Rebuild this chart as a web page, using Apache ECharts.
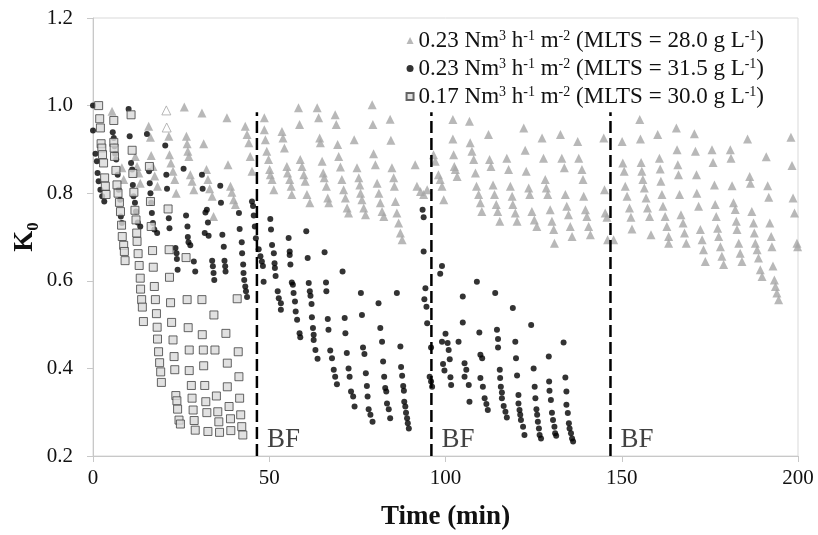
<!DOCTYPE html>
<html>
<head>
<meta charset="utf-8">
<script src="https://cdn.jsdelivr.net/npm/echarts@6/dist/echarts.min.js"></script>
<style>
  html, body { margin: 0; padding: 0; background: #fff; }
  #chart { width: 818px; height: 535px; }
</style>
</head>
<body>
<div id="chart"></div>
<script>
// gray triangles, 0.23 Nm3/h/m2, MLTS 28.0
const triangles = [
  [5.4,0.987],[8.2,0.858],[8.7,0.831],[12.0,0.884],[12.5,0.861],[13.0,0.846],[13.4,0.823],
  [15.8,0.953],[16.3,0.928],[16.5,0.886],[17.0,0.861],[17.5,0.839],[18.3,0.816],
  [21.5,0.930],[21.7,0.888],[22.1,0.869],[22.7,0.850],[23.2,0.831],[23.6,0.800],
  [25.9,0.997],[26.5,0.930],[26.7,0.913],[26.9,0.896],[27.2,0.884],[27.6,0.842],[28.1,0.827],[28.6,0.808],
  [30.9,0.983],[31.4,0.913],[32.2,0.854],[32.6,0.831],[33.1,0.810],[33.8,0.793],[34.2,0.747],
  [38.0,0.972],[38.3,0.865],[39.0,0.816],[39.4,0.802],[39.9,0.785],[40.4,0.774],
  [43.2,0.953],[43.7,0.934],[44.2,0.915],[44.6,0.884],[45.1,0.850],
  [48.6,0.972],[48.6,0.945],[48.9,0.922],[49.3,0.896],[49.8,0.877],[50.1,0.854],[50.3,0.842],[50.8,0.831],[51.3,0.808],
  [53.6,0.941],[53.9,0.926],[54.3,0.903],[55.0,0.861],[55.2,0.846],[55.8,0.831],[56.2,0.816],[56.4,0.797],
  [58.3,0.995],[58.6,0.957],[58.8,0.877],[59.3,0.861],[59.8,0.842],[60.2,0.827],[60.7,0.797],[61.5,0.778],
  [63.6,0.995],[64.0,0.972],[64.3,0.926],[64.5,0.915],[65.0,0.873],[65.3,0.846],[65.6,0.835],[66.2,0.816],[66.6,0.789],[66.9,0.778],
  [68.7,0.979],[69.0,0.957],[69.4,0.911],[69.7,0.884],[70.2,0.860],[70.6,0.831],[71.1,0.808],[71.6,0.789],[72.1,0.766],[72.5,0.755],
  [74.1,0.922],[74.9,0.858],[75.4,0.835],[75.7,0.819],[75.9,0.800],[76.3,0.785],[76.8,0.766],[77.3,0.751],
  [79.2,1.002],[79.4,0.957],[79.6,0.890],[80.1,0.865],[80.6,0.823],[81.1,0.800],[81.5,0.778],[82.0,0.758],[82.5,0.747],
  [84.3,0.969],[84.5,0.921],[84.8,0.858],[85.3,0.835],[85.5,0.816],[85.8,0.781],[86.2,0.755],[86.7,0.732],[87.2,0.709],[87.7,0.694],
  [91.4,0.865],[91.9,0.816],[92.9,0.804],[93.8,0.797],[94.8,0.808],
  [96.6,0.888],[97.1,0.873],[98.0,0.842],[98.5,0.831],[99.0,0.816],[99.5,0.785],
  [102.1,0.968],[102.1,0.924],[102.3,0.888],[102.5,0.861],[102.8,0.854],[103.3,0.838],
  [106.8,0.964],[107.0,0.915],[107.5,0.896],[108.0,0.877],[108.5,0.846],[108.8,0.816],[109.4,0.797],[109.9,0.778],[110.3,0.758],
  [112.2,0.934],[112.5,0.877],[112.9,0.861],[113.5,0.819],[113.9,0.797],[114.4,0.774],[114.8,0.758],[115.4,0.736],
  [117.4,0.880],[117.9,0.854],[118.4,0.816],[118.9,0.793],[119.1,0.774],[119.8,0.755],[120.3,0.736],
  [122.2,0.949],[122.6,0.898],[122.9,0.850],[123.6,0.812],[123.9,0.797],[124.5,0.758],[125.2,0.739],[125.9,0.724],
  [127.4,0.926],[127.8,0.880],[128.3,0.831],[128.6,0.812],[129.0,0.797],[129.7,0.762],[130.2,0.736],[130.7,0.717],[130.9,0.686],
  [132.6,0.934],[133.0,0.880],[133.7,0.858],[134.0,0.797],[134.4,0.770],[134.9,0.751],[135.4,0.724],[135.9,0.701],
  [137.5,0.918],[137.8,0.880],[138.7,0.854],[139.0,0.831],[139.2,0.793],[139.7,0.762],[140.1,0.747],[140.6,0.724],[141.1,0.705],
  [144.9,0.926],[145.1,0.808],[145.3,0.755],[145.8,0.745],[146.0,0.694],[147.7,0.694],
  [150.1,0.918],[150.3,0.869],[150.7,0.850],[151.0,0.816],[151.5,0.793],[152.2,0.766],[152.6,0.745],[152.9,0.718],
  [155.1,0.968],[155.3,0.924],[155.5,0.870],[155.7,0.850],[156.0,0.831],[156.4,0.812],[156.9,0.789],[157.3,0.766],[157.9,0.747],[158.3,0.705],
  [160.2,0.934],[160.7,0.880],[160.9,0.855],[161.1,0.827],[161.4,0.797],[161.7,0.770],[162.3,0.747],[162.8,0.724],[163.3,0.701],[163.3,0.686],
  [165.5,0.949],[165.7,0.899],[165.9,0.865],[166.1,0.842],[166.4,0.797],[166.8,0.751],[167.4,0.732],[167.8,0.709],[168.3,0.686],
  [170.6,0.936],[170.9,0.896],[171.2,0.842],[171.3,0.800],[171.8,0.770],[172.3,0.717],[172.8,0.694],[173.2,0.671],[173.7,0.644],
  [175.6,0.899],[175.9,0.870],[176.3,0.819],[176.5,0.774],[176.8,0.747],[177.2,0.720],[177.5,0.701],[178.0,0.678],[178.4,0.656],[178.9,0.637],
  [180.8,0.899],[181.0,0.880],[181.3,0.817],[181.7,0.778],[182.2,0.763],[182.5,0.736],[182.7,0.717],[183.2,0.686],[183.6,0.663],[184.1,0.644],
  [185.7,0.924],[186.3,0.838],[186.5,0.823],[186.9,0.758],[187.4,0.732],[187.6,0.709],[187.9,0.686],[188.4,0.671],[188.8,0.652],[189.3,0.625],[189.8,0.610],
  [191.0,0.883],[191.4,0.817],[191.7,0.791],[192.0,0.732],[192.4,0.701],[192.6,0.678],[192.9,0.634],[193.3,0.602],[193.6,0.587],[194.0,0.572],[194.5,0.557],
  [198.0,0.928],[198.3,0.863],[198.6,0.789],[199.0,0.755],[199.7,0.686],[199.9,0.678]
];
// the two open triangles near 20 min
const hollowTriangles = [[20.8,0.989],[20.9,0.950]];

// black dots, 0.23 Nm3/h/m2, MLTS 31.5
const dots = [
  [0,1.0],[0,0.943],[0.7,0.890],[1.1,0.873],[1.3,0.846],[1.6,0.827],[2.1,0.808],[2.6,0.793],[3.2,0.781],
  [5.6,0.939],[5.9,0.926],[6.1,0.907],[6.3,0.890],[6.6,0.877],[7.0,0.842],[7.3,0.808],[7.7,0.785],[7.9,0.747],[8.2,0.732],
  [10.1,0.992],[10.4,0.930],[10.8,0.869],[11.1,0.854],[11.3,0.819],[11.5,0.793],[11.9,0.778],[12.2,0.758],[12.7,0.733],[13.4,0.724],
  [15.3,0.935],[15.9,0.850],[16.1,0.823],[16.3,0.800],[16.5,0.778],[16.7,0.755],[17.0,0.732],[17.4,0.717],[18.2,0.709],
  [20.5,0.909],[20.8,0.842],[21.0,0.810],[21.5,0.743],[21.7,0.720],
  [23.4,0.675],[23.7,0.663],[23.8,0.650],[24.0,0.625],
  [25.7,0.856],[26.4,0.749],[26.8,0.724],[26.9,0.700],[27.1,0.688],[27.6,0.681],[28.6,0.644],[29.0,0.621],
  [30.9,0.842],[31.1,0.810],[31.9,0.756],[32.3,0.762],[32.6,0.733],[31.7,0.709],[32.8,0.703],
  [33.8,0.646],[34.0,0.633],[34.2,0.618],[34.4,0.602],
  [36.1,0.817],[36.3,0.778],[36.7,0.705],[37.1,0.678],[37.3,0.646],[37.5,0.633],[37.6,0.621],
  [41.4,0.755],[41.6,0.718],[42.2,0.688],[42.3,0.663],[42.6,0.637],[42.7,0.618],[42.9,0.602],[43.2,0.587],[43.4,0.576],[43.7,0.563],
  [45.1,0.781],[45.4,0.771],[45.6,0.749],[45.9,0.724],[46.2,0.697],[47.0,0.672],[47.5,0.656],[47.9,0.644],[48.2,0.634],[48.4,0.598],
  [50.3,0.741],[50.5,0.717],[50.8,0.682],[51.3,0.663],[51.5,0.640],[51.6,0.629],[51.8,0.611],[52.4,0.576],[52.7,0.560],[53.3,0.549],[53.3,0.534],
  [55.5,0.698],[55.8,0.667],[55.8,0.659],[56.0,0.637],[56.4,0.596],[56.7,0.591],[56.9,0.572],[57.3,0.553],[57.5,0.530],[57.9,0.511],[58.6,0.480],[58.8,0.471],
  [60.5,0.713],[60.9,0.652],[61.2,0.595],[61.5,0.576],[61.7,0.566],[62.0,0.547],[62.1,0.517],[62.4,0.492],[62.6,0.477],[62.6,0.465],[63.1,0.442],[63.7,0.422],
  [65.7,0.665],[66.1,0.596],[66.2,0.576],[66.6,0.513],[66.8,0.488],[67.3,0.441],[67.8,0.423],[68.3,0.397],[68.7,0.381],[69.2,0.364],
  [70.8,0.621],[71.4,0.515],[71.6,0.480],[72.0,0.435],[72.5,0.400],[72.8,0.381],[73.2,0.347],[73.8,0.336],[74.2,0.313],
  [76.0,0.572],[76.3,0.522],[76.6,0.448],[77.0,0.433],[77.4,0.389],[77.7,0.360],[77.9,0.336],[78.2,0.307],[78.7,0.294],[79.3,0.278],
  [81.0,0.549],[81.5,0.492],[82.0,0.461],[82.3,0.416],[82.6,0.381],[82.9,0.355],[83.2,0.347],[83.4,0.320],[83.9,0.307],[84.3,0.286],
  [86.2,0.572],[87.2,0.450],[87.4,0.403],[87.7,0.383],[88.0,0.360],[88.2,0.349],[88.3,0.324],[88.6,0.313],[88.8,0.299],[89.1,0.286],[89.3,0.275],[89.6,0.263],
  [93.5,0.762],[93.8,0.745],[93.8,0.667],[94.3,0.583],[94.0,0.558],[94.6,0.541],[94.8,0.503],[95.9,0.448],[95.5,0.381],[95.9,0.370],[96.2,0.358],
  [99.0,0.634],[98.5,0.616],[100.0,0.479],[99.0,0.461],[100.6,0.458],[100.9,0.442],[103.7,0.461],[99.3,0.410],[99.7,0.395],[101.2,0.421],[101.4,0.380],[101.6,0.362],
  [104.9,0.564],[104.9,0.505],[105.4,0.412],[105.9,0.397],[105.4,0.381],[106.6,0.362],[106.8,0.324],
  [108.9,0.598],[109.6,0.482],[109.9,0.431],[110.4,0.423],[109.9,0.378],[110.6,0.358],[111.1,0.332],[111.6,0.319],[112.0,0.305],
  [114.1,0.572],[114.6,0.488],[114.9,0.467],[114.9,0.448],[115.4,0.397],[115.5,0.378],[115.7,0.358],[116.0,0.345],[116.0,0.332],[116.5,0.314],[117.0,0.301],[117.4,0.288],
  [119.1,0.538],[119.8,0.461],[120.0,0.423],[120.3,0.384],[120.7,0.339],[120.7,0.320],[121.0,0.305],[121.2,0.294],[121.4,0.282],[122.0,0.267],[122.4,0.248],
  [124.3,0.499],[125.0,0.400],[125.3,0.358],[125.5,0.332],[125.8,0.307],[126.0,0.294],[126.2,0.278],[126.5,0.263],[126.7,0.248],[127.1,0.240],
  [129.3,0.427],[129.4,0.370],[129.5,0.349],[129.9,0.328],[130.2,0.299],[130.5,0.282],[130.9,0.267],[131.1,0.252],[131.4,0.246],
  [133.5,0.459],[134.0,0.379],[134.3,0.347],[134.3,0.317],[134.7,0.298],[135.0,0.275],[135.2,0.263],[135.6,0.252],[135.9,0.240],[136.2,0.233]
];

// light gray squares, 0.17 Nm3/h/m2, MLTS 30.0
const squares = [
  [1.6,1.0],[1.9,0.970],[2.1,0.949],[2.3,0.913],[2.5,0.903],[2.7,0.888],[3.0,0.869],[3.3,0.835],[3.5,0.816],[3.7,0.797],
  [5.9,0.966],[5.9,0.916],[6.0,0.903],[6.1,0.884],[6.5,0.852],[6.8,0.819],[7.1,0.800],[7.5,0.779],[7.8,0.758],[8.1,0.727],[8.3,0.701],[8.7,0.681],[8.9,0.667],[9.1,0.646],
  [10.8,0.979],[11.1,0.898],[11.3,0.845],[11.6,0.802],[11.9,0.761],[12.2,0.739],[12.4,0.709],[12.5,0.690],[12.8,0.662],[13.1,0.635],[13.4,0.606],[13.5,0.581],[13.8,0.557],[14.0,0.540],[14.3,0.507],
  [16.0,0.861],[16.3,0.781],[16.5,0.724],[16.9,0.669],[17.1,0.631],[17.4,0.587],[17.7,0.557],[18.0,0.525],[18.2,0.494],[18.3,0.467],[18.6,0.438],[18.9,0.413],[19.2,0.392],[19.4,0.368],
  [21.3,0.764],[21.6,0.671],[21.7,0.608],[22.0,0.550],[22.3,0.505],[22.7,0.465],[23.0,0.427],[23.2,0.397],[23.5,0.338],[23.8,0.326],[24.0,0.307],[24.4,0.282],[24.8,0.273],
  [26.4,0.653],[26.7,0.557],[27.0,0.493],[27.3,0.442],[27.3,0.395],[27.9,0.361],[28.1,0.332],[28.4,0.305],[28.7,0.281],[29.0,0.259],
  [30.9,0.557],[31.0,0.477],[31.3,0.442],[31.4,0.406],[31.7,0.361],[32.0,0.324],[32.3,0.299],[32.6,0.256],
  [34.3,0.522],[34.6,0.442],[35.0,0.337],[35.4,0.301],[35.7,0.278],[35.9,0.254],
  [37.7,0.480],[38.1,0.412],[38.1,0.358],[38.6,0.313],[39.0,0.285],[39.1,0.258],
  [40.9,0.559],[41.2,0.438],[41.4,0.381],[41.6,0.332],[41.9,0.294],[42.2,0.267],[42.5,0.248]
];

// backflush times (min) and the span of the dashed markers
const bfTimes = [46.5, 96.0, 146.8];
const bfRange = [0.2, 0.985];
const bfLabelY = 0.237;

const seriesNames = [
  "0.23 Nm3 h-1 m-2 (MLTS = 28.0 g L-1)",
  "0.23 Nm3 h-1 m-2 (MLTS = 31.5 g L-1)",
  "0.17 Nm3 h-1 m-2 (MLTS = 30.0 g L-1)"
];
const richNames = {};
richNames[seriesNames[0]] = "{n|0.23 Nm}{s|3}{n| h}{s|-1}{n| m}{s|-2}{n| (MLTS = 28.0 g L}{s|-1}{n|)}";
richNames[seriesNames[1]] = "{n|0.23 Nm}{s|3}{n| h}{s|-1}{n| m}{s|-2}{n| (MLTS = 31.5 g L}{s|-1}{n|)}";
richNames[seriesNames[2]] = "{n|0.17 Nm}{s|3}{n| h}{s|-1}{n| m}{s|-2}{n| (MLTS = 30.0 g L}{s|-1}{n|)}";

const SERIF = "'Liberation Serif', 'Times New Roman', serif";
const INK = "#111";

let chart = echarts.init(document.getElementById("chart"));

let triData = triangles.map(p => p).concat(hollowTriangles.map(p => ({
  value: p,
  itemStyle: {color: "#fff", borderColor: "#a6a6a6", borderWidth: 1}
})));

let series = [
  {name: seriesNames[0], type: "scatter", symbol: "triangle", symbolSize: 9,
   itemStyle: {color: "#a6a6a6"}, data: triData, z: 2},
  {name: seriesNames[1], type: "scatter", symbol: "circle", symbolSize: 6,
   itemStyle: {color: "#000"}, data: dots, z: 3},
  {name: seriesNames[2], type: "scatter", symbol: "rect", symbolSize: 8,
   itemStyle: {color: "#d9d9d9", borderColor: "#404040", borderWidth: 1}, data: squares, z: 4}
];

// dashed backflush lines
bfTimes.forEach(t => {
  series.push({
    type: "line", silent: true, symbol: "none", z: 5,
    data: [[t, bfRange[0]], [t, bfRange[1]]],
    lineStyle: {color: "#000", width: 2.5, type: [12, 5]}
  });
});
// BF labels
series.push({
  type: "scatter", silent: true, symbolSize: 0, z: 6,
  data: bfTimes.map(t => [t, bfLabelY]),
  label: {show: true, formatter: "BF", position: "right", distance: 10,
          fontFamily: SERIF, fontSize: 27, color: INK}
});

chart.setOption({
  animation: false,
  backgroundColor: "#fff",
  grid: {left: 93, right: 20, top: 18, bottom: 79, show: true,
         outerBoundsMode: "none", containLabel: false,
         borderColor: "#d9d9d9", borderWidth: 1},
  legend: {
    data: seriesNames,
    orient: "vertical", right: 49, top: 24, align: "left",
    itemWidth: 7, itemHeight: 7, itemGap: 5, selectedMode: false,
    formatter: name => richNames[name],
    textStyle: {
      fontFamily: SERIF, color: INK,
      rich: {
        n: {fontFamily: SERIF, fontSize: 23, color: INK, lineHeight: 23, verticalAlign: "bottom"},
        s: {fontFamily: SERIF, fontSize: 14, color: INK, lineHeight: 14, verticalAlign: "top"}
      }
    }
  },
  xAxis: {
    type: "value", min: 0, max: 200, interval: 50,
    name: "Time (min)", nameLocation: "middle", nameGap: 48, nameMoveOverlap: false,
    nameTextStyle: {fontFamily: SERIF, fontSize: 27, fontWeight: "bold", color: INK},
    axisLine: {lineStyle: {color: "#c8c8c8"}},
    axisTick: {show: true, length: 6, lineStyle: {color: "#c8c8c8"}},
    axisLabel: {fontFamily: SERIF, fontSize: 21, color: INK, margin: 12},
    splitLine: {show: false}
  },
  yAxis: {
    type: "value", min: 0.2, max: 1.2, interval: 0.2,
    name: "{k|K}{z|0}", nameLocation: "middle", nameGap: 51, nameMoveOverlap: false,
    nameTextStyle: {
      rich: {
        k: {fontFamily: SERIF, fontSize: 27, fontWeight: "bold", color: INK, lineHeight: 30, verticalAlign: "top"},
        z: {fontFamily: SERIF, fontSize: 17, fontWeight: "bold", color: INK, lineHeight: 30, verticalAlign: "bottom"}
      }
    },
    axisLine: {show: true, lineStyle: {color: "#c8c8c8"}},
    axisTick: {show: true, length: 6, lineStyle: {color: "#c8c8c8"}},
    axisLabel: {fontFamily: SERIF, fontSize: 21, color: INK, margin: 20,
                formatter: v => v.toFixed(1)},
    splitLine: {show: false}
  },
  series: series
});
</script>
</body>
</html>
